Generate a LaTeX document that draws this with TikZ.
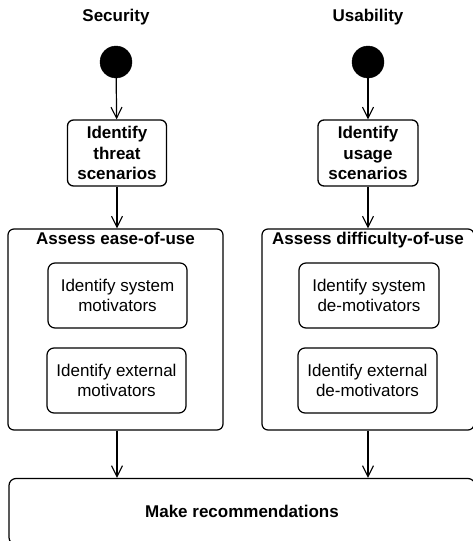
\documentclass[tikz,border=0pt]{standalone}
\usepackage{fontspec}
\setmainfont{Liberation Sans}
\usetikzlibrary{arrows.meta}
\begin{document}
\begin{tikzpicture}[x=1pt,y=-1pt,
  lbl/.style={font=\fontsize{17}{20.5}\selectfont\bfseries, inner sep=0pt},
  startdot/.style={circle, fill=black, draw=black, minimum size=32pt, inner sep=0pt},
  boldbox/.style={draw, line width=1.3pt, rounded corners=6pt, align=center, font=\fontsize{17}{20.5}\selectfont\bfseries, inner sep=0pt},
  container/.style={draw, line width=1.2pt, rounded corners=6pt, inner sep=0pt},
  innerbox/.style={draw, line width=1.2pt, rounded corners=7pt, align=center, font=\fontsize{17}{20.5}\selectfont, inner sep=0pt, minimum width=139pt, minimum height=65pt},
  flow/.style={-{Straight Barb[length=11pt,width=11pt,line width=1.1pt]}, line width=1.2pt}
]
\useasboundingbox (0,0) rectangle (473,541);
\clip (0,0) rectangle (473,541);

\node[lbl] (sec) at (116,17) {Security};
\node[lbl] (usa) at (368,17) {Usability};

\node[startdot] (s1) at (116,62) {};
\node[startdot] (s2) at (368,62) {};

\node[boldbox, minimum width=99pt, minimum height=66pt] (threat) at (117,153) {Identify\\threat\\scenarios};
\node[boldbox, minimum width=100pt, minimum height=66pt] (usage) at (368,153) {Identify\\usage\\scenarios};

\node[container, minimum width=215pt, minimum height=201pt] (ease) at (115.5,329.5) {};
\node[container, minimum width=212pt, minimum height=201pt] (diff) at (368,329.5) {};
\node[lbl, anchor=base] (easet) at (115.5,244) {Assess ease-of-use};
\node[lbl, anchor=base] (difft) at (368,244) {Assess difficulty-of-use};

\node[innerbox] (sysm) at (117.5,295.5) {Identify system\\motivators};
\node[innerbox] (extm) at (116.5,380.5) {Identify external\\motivators};
\node[innerbox, minimum width=140pt] (sysd) at (369,295.5) {Identify system\\de-motivators};
\node[innerbox] (extd) at (367.5,380.5) {Identify external\\de-motivators};

\node[container, line width=1.2pt, rounded corners=7pt, minimum width=466pt, minimum height=66pt] (rec) at (242,511.5) {};
\node[lbl] (rect) at (242,511) {Make recommendations};

\draw[flow] (s1) -- (threat);
\draw[flow] (s2) -- (usage);
\draw[flow] (threat.south) -- (threat.south |- ease.north);
\draw[flow] (usage.south) -- (usage.south |- diff.north);
\draw[flow] (ease.south -| threat.south) -- (threat.south |- rec.north);
\draw[flow] (diff.south -| usage.south) -- (usage.south |- rec.north);
\end{tikzpicture}
\end{document}
